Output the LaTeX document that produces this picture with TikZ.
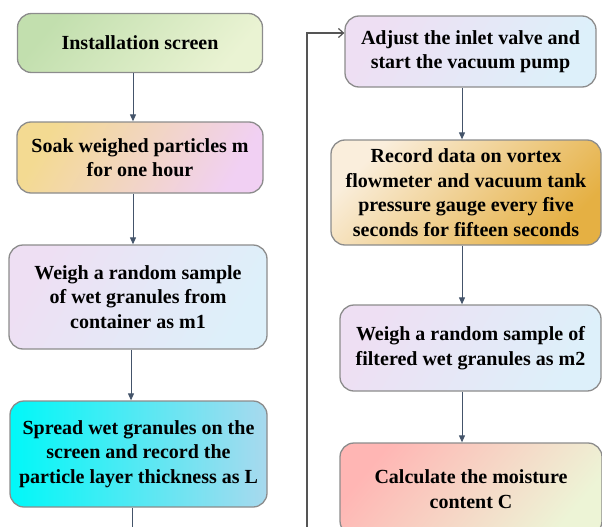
\documentclass[tikz,border=0pt]{standalone}
\usepackage{fontspec}
\setmainfont{Liberation Serif}
\usetikzlibrary{arrows.meta,calc}
\definecolor{edgegray}{HTML}{8C8C8C}
\definecolor{arrcol}{HTML}{44546A}
\definecolor{fbcol}{HTML}{555555}
\definecolor{gA}{HTML}{C2DFAE}
\definecolor{gB}{HTML}{EAF3D3}
\definecolor{yA}{HTML}{F3DA92}
\definecolor{yB}{HTML}{F1D0F3}
\definecolor{lA}{HTML}{EEDFF3}
\definecolor{lB}{HTML}{DDF0FA}
\definecolor{cA}{HTML}{00F8F8}
\definecolor{cM}{HTML}{A6F2F7}
\definecolor{cB}{HTML}{A8D9EE}
\definecolor{oA}{HTML}{FAEEDC}
\definecolor{oB}{HTML}{E5B043}
\definecolor{pA}{HTML}{FFB6B4}
\definecolor{pB}{HTML}{EDF4D6}
\begin{document}
\begin{tikzpicture}[x=1pt,y=-1pt,
  box/.style={draw=edgegray, line width=1.3pt, rounded corners=14pt, align=center,
    font=\bfseries\fontsize{20}{24.5}\selectfont, inner sep=0pt},
  flow/.style={draw=arrcol, line width=1pt, -{Triangle[width=6pt,length=7pt]}},
  feedback/.style={draw=fbcol, line width=1.2pt, -{Straight Barb[length=5pt,width=9pt]}},
  lavender/.style={left color=lA, right color=lB, shading angle=60}
]
\useasboundingbox (0,0) rectangle (602,527);
\clip (0,0) rectangle (602,527);

% left column
\node[box, minimum width=245pt, minimum height=59pt, left color=gA, right color=gB, shading angle=50] (b1) at (140,43) {Installation screen};
\node[box, minimum width=246pt, minimum height=71pt, left color=yA, right color=yB, shading angle=60] (b2) at (140,157.5) {Soak weighed particles m\\for one hour};
\node[box, minimum width=258pt, minimum height=104pt, lavender] (b3) at (138,297) {Weigh a random sample\\of wet granules from\\container as m1};
\node[box, minimum width=257pt, minimum height=106pt, left color=cA, middle color=cM, right color=cB] (b4) at (138.5,454) {Spread wet granules on the\\screen and record the\\particle layer thickness as L};

% right column
\node[box, minimum width=251pt, minimum height=71pt, lavender] (b5) at (470.5,51.5) {Adjust the inlet valve and\\start the vacuum pump};
\node[box, minimum width=270pt, minimum height=105pt, left color=oA, right color=oB, shading angle=45] (b6) at (466,192.5) {Record data on vortex\\flowmeter and vacuum tank\\pressure gauge every five\\seconds for fifteen seconds};
\node[box, minimum width=261pt, minimum height=86pt, lavender] (b7) at (470.5,348) {Weigh a random sample of\\filtered wet granules as m2};
\node[box, minimum width=262pt, minimum height=92pt, left color=pA, right color=pB, shading angle=50] (b8) at (471,489) {Calculate the moisture\\content C};

% connectors
\coordinate (b4end) at (132,560);
\coordinate (fbstart) at (307,560);

\draw[flow] ([xshift=-7pt]b1.south) -- ([xshift=-7pt]b2.north);
\draw[flow] ([xshift=-7pt]b2.south) -- ([xshift=-7pt]b2.south |- b3.north);
\draw[flow] ([xshift=-7pt]b3.south) -- ([xshift=-7pt]b3.south |- b4.north);
\draw[draw=arrcol, line width=1pt] (b4.south -| b4end) -- (b4end);

\draw[flow] ([xshift=-8.5pt]b5.south) -- ([xshift=-8.5pt]b5.south |- b6.north);
\draw[flow] ([xshift=-4pt]b6.south) -- ([xshift=-4pt]b6.south |- b7.north);
\draw[flow] ([xshift=-8.5pt]b7.south) -- ([xshift=-8.5pt]b7.south |- b8.north);

\draw[feedback] (fbstart) |- ([yshift=18.5pt]b5.west);
\end{tikzpicture}
\end{document}
